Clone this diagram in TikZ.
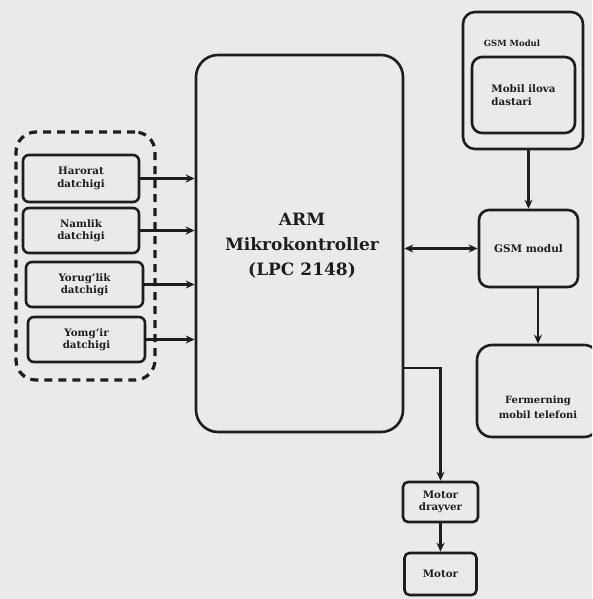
\documentclass[tikz,border=0pt]{standalone}
\usepackage{fontspec}
\setmainfont{DejaVu Serif}
\usetikzlibrary{arrows.meta,calc}
\definecolor{paper}{RGB}{234,234,234}
\definecolor{ink}{RGB}{30,30,30}
\tikzset{
  box/.style={draw=ink, line width=2.6pt, rounded corners=#1, inner sep=2pt, align=center, font=\bfseries\fontsize{10.3}{12.5}\selectfont, text=ink},
  box/.default=6pt,
  arr/.style={draw=ink, line width=2.4pt, -{Stealth[length=9pt,width=8pt]}},
  biarr/.style={draw=ink, line width=2.4pt, {Stealth[length=9pt,width=8pt]}-{Stealth[length=9pt,width=8pt]}},
  dashbox/.style={draw=ink, line width=3.2pt, dash pattern=on 8pt off 6pt, rounded corners=20pt}
}
\begin{document}
\begin{tikzpicture}[x=1pt,y=-1pt]
\fill[paper] (0,0) rectangle (592,599);
\clip (0,0) rectangle (592,599);
\useasboundingbox (0,0) rectangle (592,599);
% sensor group
\node[dashbox, minimum width=139pt, minimum height=248pt] (grp) at (85.5,256) {};
\node[box, minimum width=116pt, minimum height=47pt] (h) at (81,178.5) {Harorat\\datchigi};
\node[box, minimum width=116pt, minimum height=45pt] (n) at (81,230.5) {Namlik\\datchigi};
\node[box, minimum width=117pt, minimum height=45pt] (y) at (84.5,284.5) {Yorug'lik\\datchigi};
\node[box, minimum width=117pt, minimum height=45pt] (r) at (86.5,339.5) {Yomg'ir\\datchigi};
% ARM
\node[box=22pt, minimum width=207pt, minimum height=377pt] (arm) at (299.5,243.5) {};
\node[font=\bfseries\fontsize{17}{25}\selectfont, text=ink, align=center] (armt) at (302,246) {ARM\\Mikrokontroller\\(LPC 2148)};
% GSM
\node[box=12pt, minimum width=120pt, minimum height=137pt] (gsmo) at (523,80.5) {};
\node[font=\bfseries\fontsize{8.5}{10}\selectfont, text=ink] (gsmot) at (512,43) {GSM Modul};
\node[box=10pt, minimum width=103pt, minimum height=76pt, align=left] (app) at (523.5,95) {Mobil ilova\\dastari};
\node[box=10pt, minimum width=99pt, minimum height=77pt, font=\bfseries\fontsize{10.5}{12}\selectfont] (gsm) at (528.5,248.5) {GSM modul};
\node[box=15pt, minimum width=122pt, minimum height=92pt] (fer) at (538,391) {};
\node[font=\bfseries\fontsize{10}{15}\selectfont, text=ink, align=center] (fert) at (538,407.5) {Fermerning\\mobil telefoni};
% motor
\node[box=5pt, minimum width=75pt, minimum height=40pt] (md) at (440.5,502) {Motor\\drayver};
\node[box=5pt, minimum width=72pt, minimum height=42pt] (mot) at (440.5,574) {Motor};
% connectors
\draw[arr] (h.east) -- (h.east -| arm.west);
\draw[arr] (n.east) -- (n.east -| arm.west);
\draw[arr] (y.east) -- (y.east -| arm.west);
\draw[arr] (r.east) -- (r.east -| arm.west);
\draw[biarr] (arm.east |- gsm.west) -- (gsm.west);
\draw[arr] (gsm.north |- gsmo.south) -- (gsm.north);
\draw[arr] (fer.north |- gsm.south) -- (fer.north);
\coordinate (c1) at (0,368);
\draw[arr] (arm.east |- c1) -| (md.north);
\draw[arr] (md.south) -- (mot.north);
\end{tikzpicture}
\end{document}
